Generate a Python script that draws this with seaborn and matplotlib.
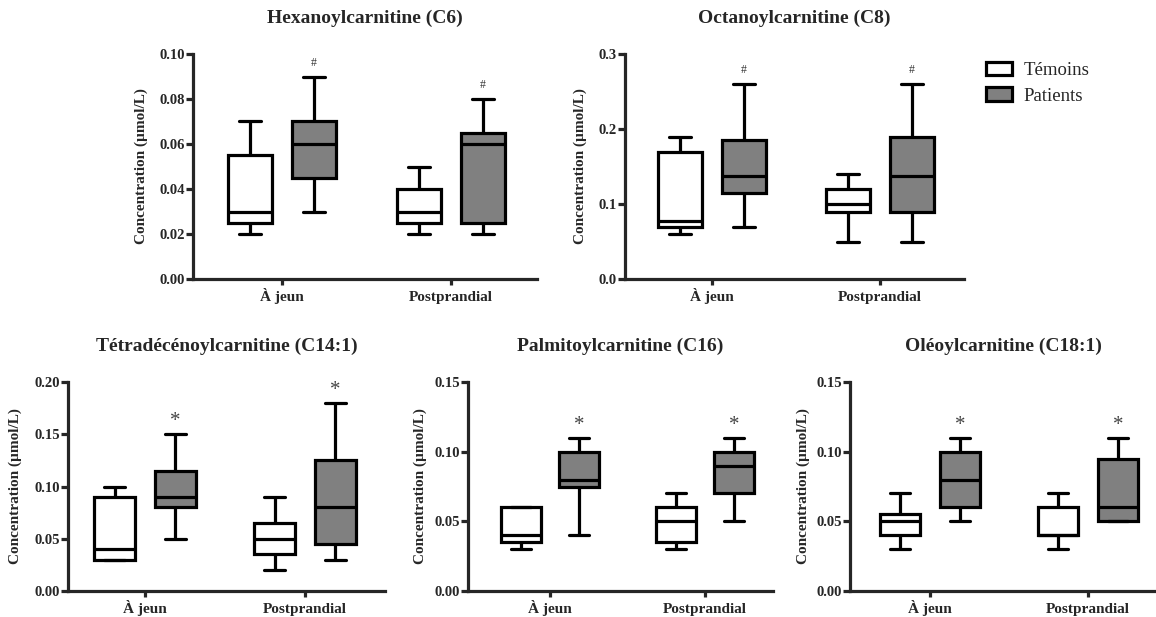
import matplotlib
matplotlib.use("Agg")
import matplotlib.pyplot as plt
import numpy as np
import pandas as pd
import seaborn as sns
from matplotlib.patches import Patch
from matplotlib.ticker import FormatStrFormatter

# ---- data: five-number summaries (min, Q1, median, Q3, max), µmol/L ----
conditions = ["À jeun", "Postprandial"]
groups = ["Témoins", "Patients"]

c6_temoins = [[0.02, 0.025, 0.03, 0.055, 0.07], [0.02, 0.025, 0.03, 0.04, 0.05]]
c6_patients = [[0.03, 0.045, 0.06, 0.07, 0.09], [0.02, 0.025, 0.06, 0.065, 0.08]]

c8_temoins = [[0.06, 0.07, 0.078, 0.17, 0.19], [0.05, 0.09, 0.10, 0.12, 0.14]]
c8_patients = [[0.07, 0.115, 0.138, 0.185, 0.26], [0.05, 0.09, 0.138, 0.19, 0.26]]

c141_temoins = [[0.03, 0.03, 0.04, 0.09, 0.10], [0.02, 0.035, 0.05, 0.065, 0.09]]
c141_patients = [[0.05, 0.08, 0.09, 0.115, 0.15], [0.03, 0.045, 0.08, 0.125, 0.18]]

c16_temoins = [[0.03, 0.035, 0.04, 0.06, 0.06], [0.03, 0.035, 0.05, 0.06, 0.07]]
c16_patients = [[0.04, 0.075, 0.08, 0.10, 0.11], [0.05, 0.07, 0.09, 0.10, 0.11]]

c181_temoins = [[0.03, 0.04, 0.05, 0.055, 0.07], [0.03, 0.04, 0.04, 0.06, 0.07]]
c181_patients = [[0.05, 0.06, 0.08, 0.10, 0.11], [0.05, 0.05, 0.06, 0.095, 0.11]]

titles = ["Hexanoylcarnitine (C6)", "Octanoylcarnitine (C8)",
          "Tétradécénoylcarnitine (C14:1)", "Palmitoylcarnitine (C16)",
          "Oléoylcarnitine (C18:1)"]
marks = ["#", "#", "*", "*", "*"]
y_max = [0.10, 0.3, 0.20, 0.15, 0.15]
y_step = [0.02, 0.1, 0.05, 0.05, 0.05]
y_fmt = ["%.2f", "%.1f", "%.2f", "%.2f", "%.2f"]
summaries = [(c6_temoins, c6_patients), (c8_temoins, c8_patients),
             (c141_temoins, c141_patients), (c16_temoins, c16_patients),
             (c181_temoins, c181_patients)]

# ---- layout in pixels: plot-area left, first tick, second tick, right, top, bottom ----
W, H = 1156, 617
frames = [
    (193, 282, 451, 537, 54, 279),
    (625, 712, 880, 964, 54, 279),
    (68, 145, 305, 385, 382, 591),
    (468, 550, 705, 773, 382, 591),
    (850, 930, 1088, 1156, 382, 591),
]
ylabel_x = [141, 580, 15, 420, 803]

sns.set_style("ticks")
plt.rcParams["font.family"] = ["Liberation Serif", "DejaVu Serif"]
plt.rcParams["font.weight"] = "bold"

fig = plt.figure(figsize=(W / 100, H / 100), dpi=100)
fig.patch.set_facecolor("white")

LW = 2.3
palette = {"Témoins": "white", "Patients": "#808080"}
box_width, box_gap = 0.76, 0.32
offset = box_width / 4

for i, (title, (tem, pat)) in enumerate(zip(titles, summaries)):
    left, aj, pp, right, top, bottom = frames[i]
    ax = fig.add_axes([left / W, 1 - bottom / H, (right - left) / W, (bottom - top) / H])

    rows = []
    for c, cond in enumerate(conditions):
        for g, vals in zip(groups, (tem[c], pat[c])):
            for v in vals:
                rows.append({"condition": cond, "group": g, "value": v})
    df = pd.DataFrame(rows)

    sns.boxplot(data=df, x="condition", y="value", hue="group",
                order=conditions, hue_order=groups, palette=palette,
                saturation=1, whis=(0, 100), width=box_width, gap=box_gap,
                linewidth=LW, linecolor="black", showfliers=False,
                legend=False, ax=ax)

    unit = pp - aj
    ax.set_xlim(-(aj - left) / unit, 1 + (right - pp) / unit)
    ax.set_ylim(0, y_max[i])
    ax.set_yticks(np.arange(0, y_max[i] + y_step[i] / 2, y_step[i]))
    ax.yaxis.set_major_formatter(FormatStrFormatter(y_fmt[i]))
    ax.set_xlabel("")
    ax.set_ylabel("")
    sns.despine(ax=ax)
    for s in ("left", "bottom"):
        ax.spines[s].set_linewidth(LW)
    ax.tick_params(axis="y", direction="out", length=5, width=LW, labelsize=10.5, pad=1)
    # category labels share one baseline, whatever their accents
    ax.tick_params(axis="x", direction="out", length=4, width=LW, labelsize=11, pad=12)
    for lab in ax.get_xticklabels():
        lab.set_fontweight("bold")
        lab.set_verticalalignment("baseline")
    for lab in ax.get_yticklabels():
        lab.set_fontweight("bold")

    # significance marks above the patients' maximum
    for c in range(2):
        top_val = pat[c][-1]
        if marks[i] == "#":
            ax.annotate("#", (c + offset, top_val), xytext=(0, 10),
                        textcoords="offset points", ha="center", va="center",
                        fontsize=8.5, fontweight="normal", color="#333333")
        else:
            ax.annotate("*", (c + offset, top_val), xytext=(0, 9),
                        textcoords="offset points", ha="center", va="center",
                        fontsize=15, fontweight="normal", color="#444444")

    fig.text((left + right) / 2 / W, 1 - (top - 36) / H, title, ha="center",
             va="center", fontsize=14, fontweight="bold")
    fig.text(ylabel_x[i] / W, 1 - (top + bottom) / 2 / H, "Concentration (µmol/L)",
             rotation=90, ha="center", va="center", fontsize=11, fontweight="bold")

handles = [Patch(facecolor=palette[g], edgecolor="black", linewidth=LW, label=g)
           for g in groups]
fig.legend(handles=handles, loc="upper left", bbox_to_anchor=(969 / W, 1 - 45 / H),
           frameon=False, handlelength=1.4, handleheight=0.7, handletextpad=0.6,
           labelspacing=0.45, prop={"family": "Liberation Serif", "weight": "normal",
                                    "size": 13.5})

fig.savefig("out.png", dpi=100, facecolor="white")
